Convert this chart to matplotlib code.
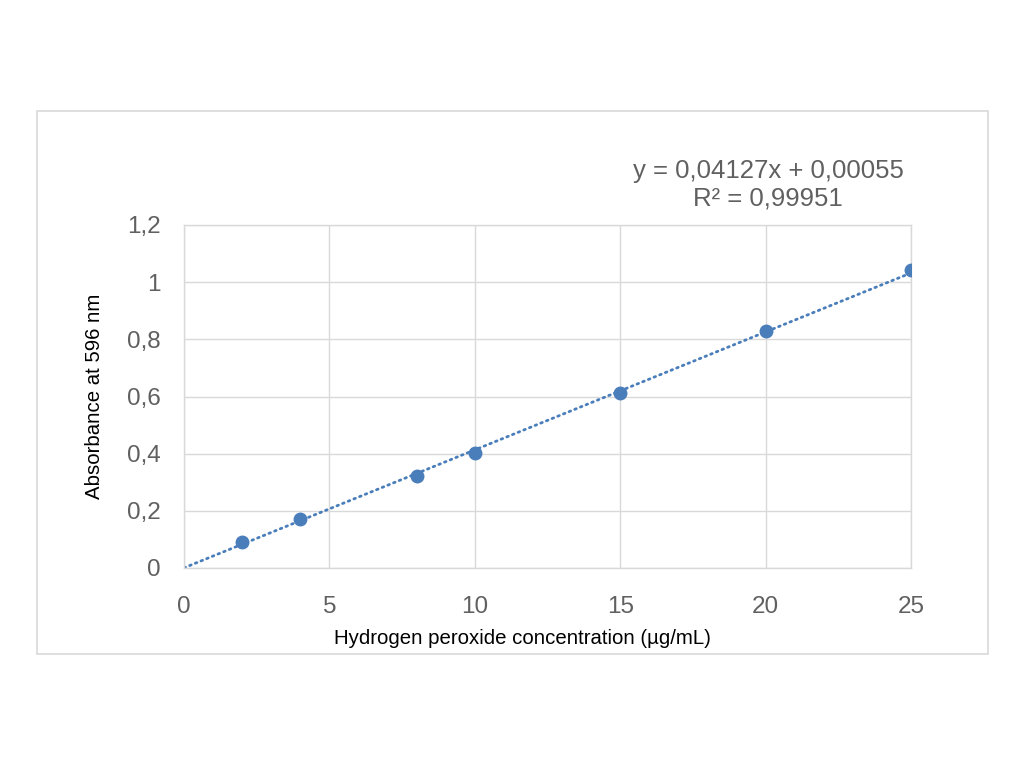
import matplotlib
matplotlib.use('Agg')
from matplotlib import pyplot as plt
from matplotlib.patches import Rectangle
import numpy as np

# calibration data: hydrogen peroxide standard curve
concentration = [2, 4, 8, 10, 15, 20, 25]
absorbance = [0.091, 0.171, 0.322, 0.402, 0.612, 0.829, 1.043]

slope = 0.04127
intercept = 0.00055
r_squared = 0.99951

x_ticks = [0, 5, 10, 15, 20, 25]
y_ticks = [0, 0.2, 0.4, 0.6, 0.8, 1.0, 1.2]

plt.rcParams['font.family'] = ['Liberation Sans', 'DejaVu Sans']

grey_text = '#606060'
grid_col = '#d9d9d9'
blue = '#4a7ebb'

fig = plt.figure(figsize=(10.24, 7.68), dpi=100)

# outer chart frame
fig.patches.append(Rectangle((37 / 1024, 1 - 654 / 768), 951 / 1024, 543 / 768,
                             transform=fig.transFigure, fill=False,
                             edgecolor=grid_col, linewidth=1.2))

ax = fig.add_axes([184 / 1024, 1 - 568 / 768, 727 / 1024, 343 / 768])

# trendline
xt = np.array([0, 25])
ax.plot(xt, slope * xt + intercept, linestyle=(0, (0.6, 1.6)), color=blue,
        linewidth=2, dash_capstyle='round', zorder=2)

ax.plot(concentration, absorbance, 'o', color=blue, markersize=9, zorder=3)

ax.set_xlim(0, 25)
ax.set_ylim(0, 1.2)
ax.set_xticks(x_ticks)
ax.set_yticks(y_ticks)
ax.set_xticklabels([str(v) for v in x_ticks])
ax.set_yticklabels([('%g' % v).replace('.', ',') for v in y_ticks])
ax.tick_params(length=0, labelsize=17.5, labelcolor=grey_text)
ax.tick_params(axis='x', pad=20)
ax.tick_params(axis='y', pad=17)
ax.grid(True, color=grid_col, linewidth=1)
ax.set_axisbelow(True)
for s in ax.spines.values():
    s.set_color(grid_col)
    s.set_linewidth(1)

ax.set_xlabel('Hydrogen peroxide concentration (µg/mL)', fontsize=14.7, labelpad=8,
              x=(522 - 184) / 727)
ax.set_ylabel('Absorbance at 596 nm', fontsize=14.7, labelpad=16)

eq = 'y = %sx + %s\nR² = %s' % (('%.5f' % slope).replace('.', ','),
                                 ('%.5f' % intercept).replace('.', ','),
                                 ('%.5f' % r_squared).replace('.', ','))
fig.text(768 / 1024, 1 - 185 / 768, eq, ha='center', va='center', fontsize=18.5,
         color=grey_text, linespacing=1.2)

fig.savefig('out.png', dpi=100)
